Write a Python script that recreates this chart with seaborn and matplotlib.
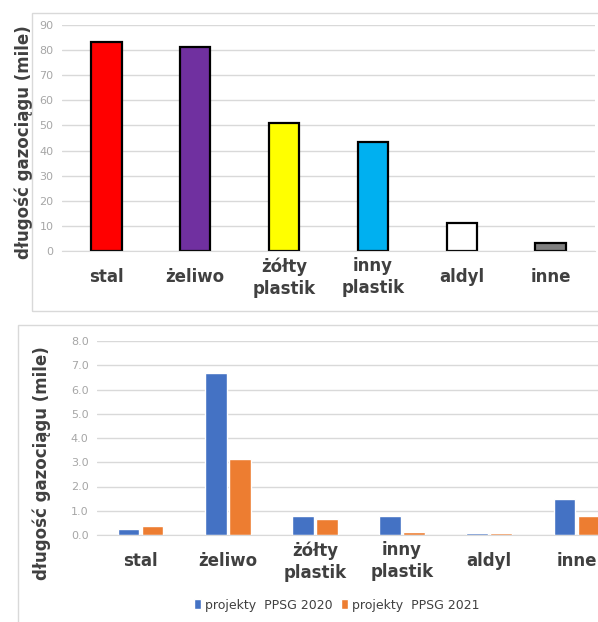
import pandas as pd
import matplotlib
matplotlib.use("Agg")
import matplotlib.pyplot as plt
from matplotlib.patches import Rectangle
import seaborn as sns

# Top chart data
materials = ["stal", "żeliwo", "żółty\nplastik", "inny\nplastik", "aldyl", "inne"]
total_miles = [83.3, 81.3, 50.8, 43.6, 11.3, 3.1]
material_colors = ["#FF0000", "#7030A0", "#FFFF00", "#00B0F0", "#FFFFFF", "#7F7F7F"]

# Bottom chart data
years = ["projekty  PPSG 2020", "projekty  PPSG 2021"]
miles_2020 = [0.25, 6.7, 0.78, 0.78, 0.1, 1.48]
miles_2021 = [0.37, 3.13, 0.66, 0.12, 0.1, 0.78]
year_colors = ["#4472C4", "#ED7D31"]

ylabel = "długość gazociągu (mile)"
grid_col = "#D9D9D9"
tick_col = "#A6A6A6"
label_col = "#404040"

sns.set_style("white")
plt.rcParams["font.family"] = ["DejaVu Sans"]

fig = plt.figure(figsize=(5.98, 6.22), dpi=100)
W, H = 598, 622

def px(x0, y_top, x1, y_bot):
    return [x0 / W, 1 - y_bot / H, (x1 - x0) / W, (y_bot - y_top) / H]

# chart frames
fig.patches.append(Rectangle((32 / W, 1 - 311 / H), 600 / W, 298 / H, transform=fig.transFigure,
                             fill=False, edgecolor=grid_col, lw=1))
fig.patches.append(Rectangle((18 / W, 1 - 640 / H), 600 / W, 315 / H, transform=fig.transFigure,
                             fill=False, edgecolor=grid_col, lw=1))

# ---- top chart
ax1 = fig.add_axes(px(62, 25, 595, 251))
top_df = pd.DataFrame({"material": materials, "mile": total_miles})
sns.barplot(data=top_df, x="material", y="mile", hue="material", palette=material_colors,
            saturation=1, width=0.34, edgecolor="black", linewidth=1.6, legend=False, ax=ax1)
ax1.set_ylim(0, 90)
ax1.set_yticks(range(0, 91, 10))

# ---- bottom chart
ax2 = fig.add_axes(px(97, 341, 620, 535))
bottom_df = pd.DataFrame({
    "material": materials * 2,
    "mile": miles_2020 + miles_2021,
    "rok": [years[0]] * len(materials) + [years[1]] * len(materials),
})
sns.barplot(data=bottom_df, x="material", y="mile", hue="rok", palette=year_colors,
            saturation=1, width=0.55, gap=0.1, ax=ax2)
ax2.set_ylim(0, 8)
ax2.set_yticks([i for i in range(9)])
ax2.set_yticklabels([f"{i:.1f}" for i in range(9)])

for ax in (ax1, ax2):
    ax.set_xlabel("")
    ax.set_ylabel(ylabel, fontsize=12, fontweight="bold", color=label_col)
    ax.grid(axis="y", color=grid_col, lw=1)
    ax.set_axisbelow(True)
    for s in ["top", "right", "left"]:
        ax.spines[s].set_visible(False)
    ax.spines["bottom"].set_color(grid_col)
    ax.tick_params(axis="y", length=0, labelsize=8, labelcolor=tick_col, pad=6)
    ax.tick_params(axis="x", length=0, labelsize=12, labelcolor=label_col, pad=19)
    for t in ax.get_xticklabels():
        t.set_fontweight("bold")
        t.set_va("center")
        t.set_linespacing(1.3)

ax1.yaxis.labelpad = 5
ax2.yaxis.labelpad = 14
ax1.yaxis.label.set_position((0, 0.48))
ax2.yaxis.label.set_position((0, 0.37))

leg = ax2.legend(loc="center", bbox_to_anchor=(337 / W, 1 - 605 / H), bbox_transform=fig.transFigure,
                 ncol=2, frameon=False, fontsize=9, handlelength=0.55, handleheight=0.9,
                 handletextpad=0.3, columnspacing=0.7)
for t in leg.get_texts():
    t.set_color(label_col)

fig.savefig("out.png", dpi=100)
